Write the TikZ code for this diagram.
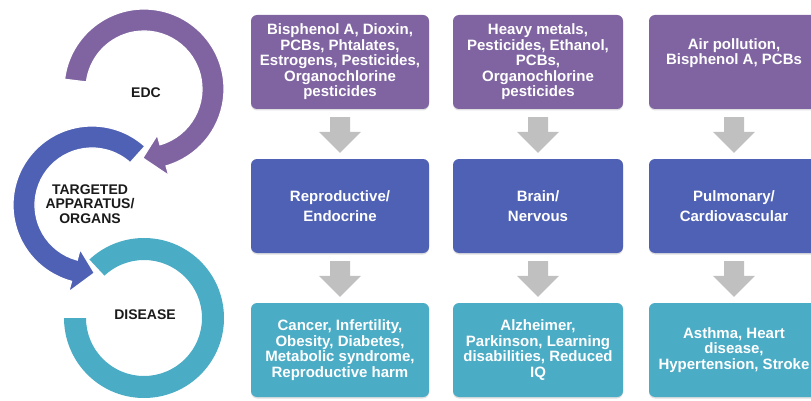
\documentclass[tikz,border=0pt]{standalone}
\usepackage{fontspec}
\setmainfont{Liberation Sans}
\usetikzlibrary{calc,shadows}
\definecolor{cpurple}{HTML}{8064A2}
\definecolor{cblue}{HTML}{4F61B5}
\definecolor{cteal}{HTML}{4BACC6}
\definecolor{cgray}{HTML}{C0C0C0}
\definecolor{ctext}{HTML}{1A1A1A}
\newcommand\flowarrow[2]{%
  \fill[blockarrow] ($(#1.south)+(-10,-8)$) -- ($(#1.south)+(10,-8)$)
    -- ($(#2.north)+(10,27)$) -- ($(#2.north)+(21,27)$)
    -- ($(#2.north)+(0,6)$)
    -- ($(#2.north)+(-21,27)$) -- ($(#2.north)+(-10,27)$) -- cycle;}
\begin{document}
\begin{tikzpicture}[x=1pt,y=1pt,
  box/.style={rounded corners=6pt, minimum height=94pt, inner sep=0pt,
    text=white, font=\bfseries\fontsize{15}{15.5}\selectfont, align=center,
    drop shadow={shadow xshift=0pt,shadow yshift=-1.5pt,opacity=0.25}},
  edcbox/.style={box, fill=cpurple},
  organbox/.style={box, fill=cblue, font=\bfseries\fontsize{15}{20}\selectfont},
  disbox/.style={box, fill=cteal},
  wide/.style={minimum width=178pt},
  narrow/.style={minimum width=170pt},
  blockarrow/.style={fill=cgray},
  ring/.style={draw=white, line width=1.2pt},
  ringlabel/.style={text=ctext, font=\bfseries\fontsize{14}{14.5}\selectfont, align=center}]
\useasboundingbox (0,0) rectangle (811,-401);

% left cycle
\begin{scope}[shift={(144,-318)}]
  \fill[cteal] (133:80) arc[start angle=133,end angle=-180,radius=80]
    -- (180:58) arc[start angle=-180,end angle=133,radius=58] -- cycle;
\end{scope}
\begin{scope}[shift={(92,-205)}]
  \filldraw[ring, fill=cblue] (48:79) arc[start angle=48,end angle=255,radius=79]
    -- (255:90) -- (272:68) -- (255:46) -- (255:57)
    arc[start angle=255,end angle=48,radius=57] -- cycle;
\end{scope}
\begin{scope}[shift={(144,-89)}]
  \filldraw[ring, fill=cpurple] (173:80) arc[start angle=173,end angle=-74,radius=80]
    -- (-74:90) -- (-91:69) -- (-74:48) -- (-74:58)
    arc[start angle=-74,end angle=173,radius=58] -- cycle;
\end{scope}
\node[ringlabel] (edc) at (146,-93) {EDC};
\node[ringlabel] (tao) at (90,-204) {TARGETED\\APPARATUS/\\ORGANS};
\node[ringlabel] (dis) at (145,-315) {DISEASE};

% boxes
\node[edcbox,wide] (e1) at (340,-62) {Bisphenol A, Dioxin,\\PCBs, Phtalates,\\Estrogens, Pesticides,\\Organochlorine\\pesticides};
\node[edcbox,narrow] (e2) at (538,-62) {Heavy metals,\\Pesticides, Ethanol,\\PCBs,\\Organochlorine\\pesticides};
\node[edcbox,narrow] (e3) at (734,-62) {Air pollution,\\Bisphenol A, PCBs\\[5pt]};
\node[organbox,wide] (o1) at (340,-206) {Reproductive/\\Endocrine};
\node[organbox,narrow] (o2) at (538,-206) {Brain/\\Nervous};
\node[organbox,narrow] (o3) at (734,-206) {Pulmonary/\\Cardiovascular};
\node[disbox,wide] (d1) at (340,-350) {Cancer, Infertility,\\Obesity, Diabetes,\\Metabolic syndrome,\\Reproductive harm};
\node[disbox,narrow] (d2) at (538,-350) {Alzheimer,\\Parkinson, Learning\\disabilities, Reduced\\IQ};
\node[disbox,narrow] (d3) at (734,-350) {Asthma, Heart\\disease,\\Hypertension, Stroke};

% arrows
\flowarrow{e1}{o1}
\flowarrow{o1}{d1}
\flowarrow{e2}{o2}
\flowarrow{o2}{d2}
\flowarrow{e3}{o3}
\flowarrow{o3}{d3}
\end{tikzpicture}
\end{document}
